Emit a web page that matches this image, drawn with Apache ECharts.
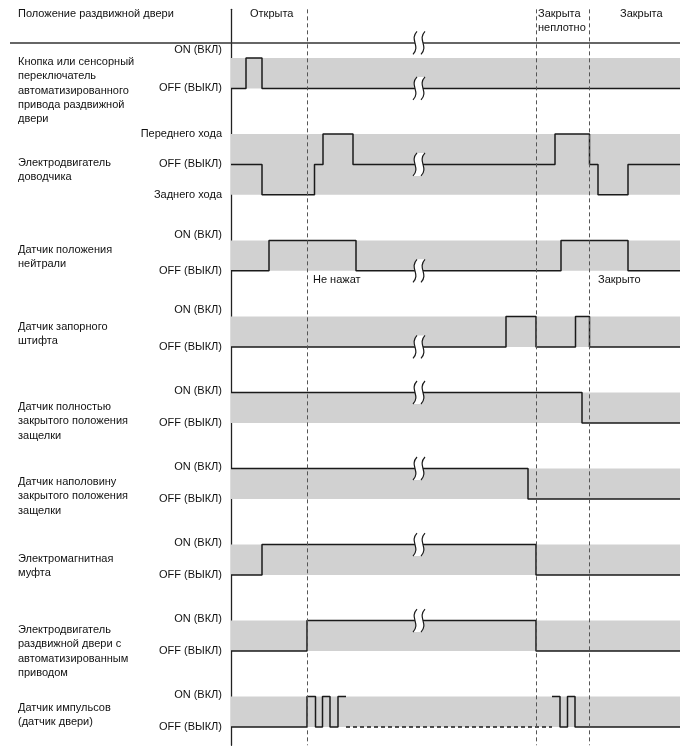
<!DOCTYPE html>
<html><head><meta charset="utf-8">
<script src="https://cdn.jsdelivr.net/npm/echarts/dist/echarts.min.js"></script>
<style>html,body{margin:0;padding:0;background:#fff}#c{width:688px;height:755px}</style>
</head><body><div id="c"></div>
<script>
// ---- data (time in arbitrary units, 0 = start of diagram) ----
const T_START = -221;
const T_END = 449;
const phaseMarks = [76, 305, 358.5];
const breakTime = 188;

const headerTitle = 'Положение раздвижной двери';
const phaseNames = ['Открыта', 'Закрыта\nнеплотно', 'Закрыта'];

const rowNames = [
  'Кнопка или сенсорный\nпереключатель\nавтоматизированного\nпривода раздвижной\nдвери',
  'Электродвигатель\nдоводчика',
  'Датчик положения\nнейтрали',
  'Датчик запорного\nштифта',
  'Датчик полностью\nзакрытого положения\nзащелки',
  'Датчик наполовину\nзакрытого положения\nзащелки',
  'Электромагнитная\nмуфта',
  'Электродвигатель\nраздвижной двери с\nавтоматизированным\nприводом',
  'Датчик импульсов\n(датчик двери)'
];
const binaryLevels = [[1, 'ON (ВКЛ)'], [0, 'OFF (ВЫКЛ)']];
const motorLevels = [[1, 'Переднего хода'], [0, 'OFF (ВЫКЛ)'], [-1, 'Заднего хода']];

// transitions: [time, level]
const sigButton    = [[0,0],[15,1],[31,0]];
const sigCloser    = [[0,0],[31,-1],[83.5,0],[92,1],[122,0],[324,1],[358.5,0],[367,-1],[397,0]];
const sigNeutral   = [[0,0],[38,1],[125,0],[330,1],[397,0]];
const sigLockPin   = [[0,0],[275,1],[305,0],[344.5,1],[358.5,0]];
const sigFullLatch = [[0,1],[351,0]];
const sigHalfLatch = [[0,1],[297,0]];
const sigClutch    = [[0,0],[31,1],[305,0]];
const sigDoorMotor = [[0,0],[76,1],[305,0]];
const sigPulse     = [[0,0],[76,1],[84.5,0],[91.5,1],[99,0],[107,1],[115,0],[321,1],[329,0],[336.5,1],[344,0]];
const pulseDashed  = [115, 321];

const breakLevels = [0, 0, 0, 0, 1, 1, 1, 1, null];
const notes = ['Не нажат', 'Закрыто'];

// ---- layout / style (not data) ----
const GAP = 1.5;
const onLabelLift = [0.26, 0, 0.17, 0.2, 0.04, 0.04, 0.04, 0.04, 0.04]; // ON label raised (level units)
const rowNameY = [62, 163, 250, 327, 407, 482, 559, 630, 708];

// ---- build ----
const signals = [sigButton, sigCloser, sigNeutral, sigLockPin, sigFullLatch, sigHalfLatch, sigClutch, sigDoorMotor, sigPulse];
const levelSets = [binaryLevels, motorLevels, binaryLevels, binaryLevels, binaryLevels, binaryLevels, binaryLevels, binaryLevels, binaryLevels];
const rows = [];
let rowTop = 0;
levelSets.forEach((ls) => {
  const mx = Math.max(...ls.map(l => l[0])), mn = Math.min(...ls.map(l => l[0]));
  rows.push({ top: rowTop, mx, mn });
  rowTop += (mx - mn) + GAP;
});
function yOf(r, lv) { return rows[r].top + (rows[r].mx - lv); }

function stepPoints(r, trans, t0, t1) {
  const pts = [];
  let cur = trans[0][1];
  for (const [t, lv] of trans) { if (t <= t0) cur = lv; }
  pts.push([t0, yOf(r, cur)]);
  for (const [t, lv] of trans) {
    if (t > t0 && t < t1) { pts.push([t, yOf(r, cur)]); pts.push([t, yOf(r, lv)]); cur = lv; }
  }
  pts.push([t1, yOf(r, cur)]);
  return pts;
}

const labelMap = {};
const labelValues = [];
levelSets.forEach((ls, r) => ls.forEach(([lv, txt]) => {
  let v = yOf(r, lv);
  if (ls === binaryLevels && lv === 1) v -= onLabelLift[r];
  labelValues.push(v); labelMap[v.toFixed(3)] = txt;
}));

const bands = rows.map((rw, r) => [0, yOf(r, rw.mx), T_END, yOf(r, rw.mn)]);
const breaks = [[breakTime, -0.5]];
breakLevels.forEach((lv, r) => { if (lv !== null) breaks.push([breakTime, yOf(r, lv)]); });

const LINE = '#1a1a1a';
const series = [];
series.push({
  type: 'custom', z: 1, silent: true, data: bands, encode: { x: [0, 2], y: [1, 3] },
  renderItem: (p, api) => {
    const a = api.coord([api.value(0), api.value(1)]);
    const b = api.coord([api.value(2), api.value(3)]);
    return { type: 'rect', shape: { x: a[0], y: a[1], width: b[0] - a[0], height: b[1] - a[1] }, style: { fill: '#d1d1d1' } };
  },
  markLine: {
    silent: true, symbol: 'none', label: { show: false }, animation: false,
    lineStyle: { type: [4, 3], color: '#555', width: 1 },
    data: phaseMarks.map(t => ({ xAxis: t })).concat([{ yAxis: -0.5, lineStyle: { type: 'solid', color: '#333', width: 1.6 } }])
  }
});
signals.forEach((sig, r) => {
  if (r === 8) {
    const parts = [[0, pulseDashed[0], 'solid'], [pulseDashed[0], pulseDashed[1], [4, 3]], [pulseDashed[1], T_END, 'solid']];
    parts.forEach(([a, b, ty]) => series.push({
      type: 'line', z: 3, silent: true, symbol: 'none', data: stepPoints(r, sig, a, b),
      lineStyle: { color: LINE, width: 1.5, type: ty }
    }));
  } else {
    series.push({
      type: 'line', z: 3, silent: true, symbol: 'none', data: stepPoints(r, sig, 0, T_END),
      lineStyle: { color: LINE, width: 1.5 }
    });
  }
});
series.push({
  type: 'custom', z: 5, silent: true, data: breaks,
  renderItem: (p, api) => {
    const c = api.coord([api.value(0), api.value(1)]);
    const x = c[0], y = c[1], h = 11.5;
    const x1 = x - 4, x2 = x + 4;
    const cv = (cx) => `M${cx + 2},${y - h} C${cx - 6},${y - 3} ${cx + 6},${y + 3} ${cx - 2},${y + h}`;
    const fill = `M${x1 + 2},${y - h} C${x1 - 6},${y - 3} ${x1 + 6},${y + 3} ${x1 - 2},${y + h} L${x2 - 2},${y + h} C${x2 + 6},${y + 3} ${x2 - 6},${y - 3} ${x2 + 2},${y - h} Z`;
    return { type: 'group', children: [
      { type: 'path', shape: { pathData: fill }, style: { fill: '#fff', stroke: null } },
      { type: 'path', shape: { pathData: cv(x1) }, style: { fill: null, stroke: LINE, lineWidth: 1.2 } },
      { type: 'path', shape: { pathData: cv(x2) }, style: { fill: null, stroke: LINE, lineWidth: 1.2 } }
    ] };
  }
});

const FONT = '11px "Liberation Sans", Arial, sans-serif';
const LH = 14.3;
const graphics = [];
function txt(text, x, y) {
  graphics.push({ type: 'text', left: x, top: y, silent: true, style: { text, font: FONT, fill: '#111', lineHeight: LH } });
}
txt(headerTitle, 18, 14 - LH / 2);
txt(phaseNames[0], 250, 14 - LH / 2);
txt(phaseNames[1], 538, 14 - LH / 2);
txt(phaseNames[2], 620, 14 - LH / 2);
rowNames.forEach((n, i) => txt(n, 18, rowNameY[i] - LH / 2));
txt(notes[0], 313, 280 - LH / 2);
txt(notes[1], 598, 280 - LH / 2);

const L = 669 / 22;
const GRID_LEFT = 10, GRID_W = 670;
const chart = echarts.init(document.getElementById('c'));
chart.setOption({
  animation: false,
  grid: { left: GRID_LEFT, width: GRID_W, top: 58 - 1.6 * L, height: 24.2 * L, containLabel: false, outerBoundsMode: 'none' },
  xAxis: { type: 'value', min: T_START, max: T_END, show: false },
  yAxis: {
    type: 'value', inverse: true, min: -1.6, max: 22.6,
    offset: -(0 - T_START) / (T_END - T_START) * GRID_W,
    axisLine: { show: true, onZero: false, lineStyle: { color: '#222', width: 1.3 } },
    axisTick: { show: false }, splitLine: { show: false },
    axisLabel: {
      customValues: labelValues, margin: 9, color: '#111', fontSize: 11,
      fontFamily: '"Liberation Sans", Arial, sans-serif',
      formatter: (v) => labelMap[Number(v).toFixed(3)] || ''
    }
  },
  series,
  graphic: graphics
});
</script></body></html>
